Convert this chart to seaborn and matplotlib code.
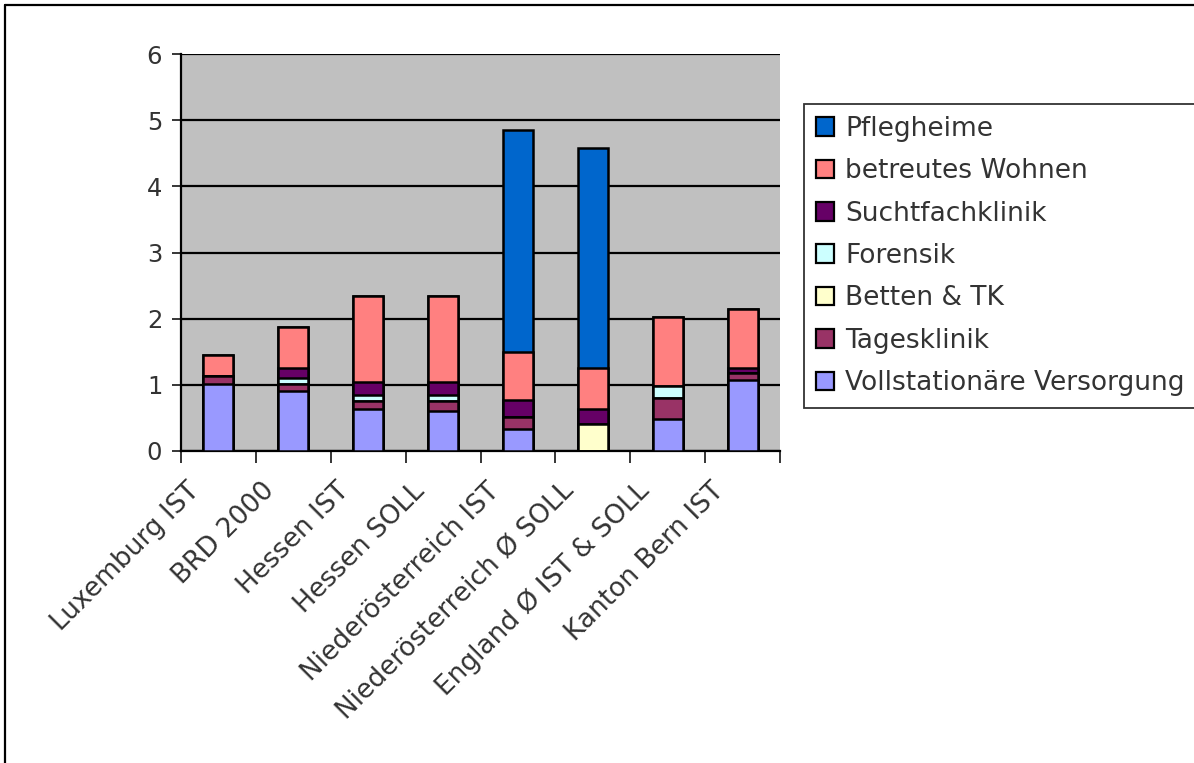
import matplotlib
matplotlib.use("Agg")
import matplotlib.pyplot as plt
import matplotlib.transforms as mtransforms
from matplotlib.lines import Line2D
from matplotlib.patches import Patch
import numpy as np
import pandas as pd
import seaborn as sns

regions = ["Luxemburg IST", "BRD 2000", "Hessen IST", "Hessen SOLL",
           "Niederösterreich IST", "Niederösterreich Ø SOLL",
           "England Ø IST & SOLL", "Kanton Bern IST"]

# segment values, listed from the bottom of each stack upwards
vollstationaer = [1.02, 0.91, 0.63, 0.60, 0.33, 0.00, 0.49, 1.07]
tagesklinik    = [0.12, 0.11, 0.13, 0.16, 0.19, 0.00, 0.31, 0.11]
betten_tk      = [0.00, 0.00, 0.00, 0.00, 0.00, 0.41, 0.00, 0.00]
forensik       = [0.00, 0.08, 0.08, 0.08, 0.00, 0.00, 0.18, 0.00]
suchtfach      = [0.00, 0.16, 0.20, 0.20, 0.25, 0.23, 0.00, 0.08]
betreut        = [0.31, 0.61, 1.30, 1.30, 0.72, 0.62, 1.05, 0.88]
pflegheime     = [0.00, 0.00, 0.00, 0.00, 3.36, 3.32, 0.00, 0.00]

series_names = ["Vollstationäre Versorgung", "Tagesklinik", "Betten & TK",
                "Forensik", "Suchtfachklinik", "betreutes Wohnen", "Pflegheime"]
series_vals = [vollstationaer, tagesklinik, betten_tk, forensik,
               suchtfach, betreut, pflegheime]
series_colors = ["#9999FF", "#993366", "#FFFFCC", "#CCFFFF",
                 "#660066", "#FF8080", "#0066CC"]

sns.set_style("white")
plt.rcParams["font.family"] = ["DejaVu Sans"]
FS_Y = 17.5
FS_X = 19
FS_LEG = 19
TXT = "#333333"

fig = plt.figure(figsize=(11.94, 7.63), dpi=100)
ax = fig.add_axes([181 / 1194, 1 - 451 / 763, 599 / 1194, 397 / 763])
ax.set_facecolor("#C0C0C0")

df = pd.DataFrame(dict(zip(series_names, series_vals)), index=regions)
cum = df.cumsum(axis=1)

# draw cumulative totals from the top layer down so lower layers overlay
for name, color in reversed(list(zip(series_names, series_colors))):
    data = pd.DataFrame({"region": regions, "value": cum[name].values})
    sns.barplot(data=data, x="region", y="value", color=color, width=0.4,
                edgecolor="black", linewidth=1.8, saturation=1, ax=ax,
                zorder=3, order=regions)

ax.set_ylim(0, 6)
ax.set_xlim(-0.5, len(regions) - 0.5)
ax.set_yticks(range(0, 7))
ax.yaxis.grid(True, color="black", linewidth=1.6, zorder=0)
ax.set_axisbelow(True)
ax.set_xlabel("")
ax.set_ylabel("")

for side in ["top", "right"]:
    ax.spines[side].set_visible(False)
for side in ["left", "bottom"]:
    ax.spines[side].set_color("black")
    ax.spines[side].set_linewidth(1.6)

ax.tick_params(axis="y", direction="out", length=6.5, width=1.3,
               labelsize=FS_Y, labelcolor=TXT, left=True, pad=7)
ax.set_xticks(np.arange(len(regions)))
ax.set_xticklabels(regions, rotation=45, ha="right", va="top",
                   rotation_mode="anchor", fontsize=FS_X, color=TXT)
ax.tick_params(axis="x", which="major", length=0, pad=10)
ax.set_xticks(np.arange(-0.5, len(regions)), minor=True)
ax.tick_params(axis="x", which="minor", direction="out", length=8.5,
               width=1.3, bottom=True)

shift = mtransforms.ScaledTranslation(-0.32, -0.13, fig.dpi_scale_trans)
for lbl in ax.get_xticklabels():
    lbl.set_transform(lbl.get_transform() + shift)

# legend box runs on past the right edge of the figure
handles = [Patch(facecolor=c, edgecolor="black", linewidth=1.6, label=n)
           for n, c in zip(series_names, series_colors)]
leg = fig.legend(handles=handles[::-1], loc="upper left", mode="expand",
                 bbox_to_anchor=(804 / 1194, 0, 0.4, 1 - 104 / 763),
                 fontsize=FS_LEG, frameon=True, fancybox=False,
                 handlelength=0.7, handleheight=0.7, handletextpad=0.4,
                 labelspacing=0.62, borderpad=0.45, borderaxespad=0,
                 labelcolor=TXT)
leg.get_frame().set_edgecolor("black")
leg.get_frame().set_linewidth(1.3)

# outer chart border
fig.add_artist(Line2D([5 / 1194, 1.0], [1 - 5 / 763, 1 - 5 / 763],
                      color="black", linewidth=1.6, transform=fig.transFigure))
fig.add_artist(Line2D([5 / 1194, 5 / 1194], [0, 1 - 5 / 763],
                      color="black", linewidth=1.6, transform=fig.transFigure))

fig.savefig("out.png", dpi=100)
